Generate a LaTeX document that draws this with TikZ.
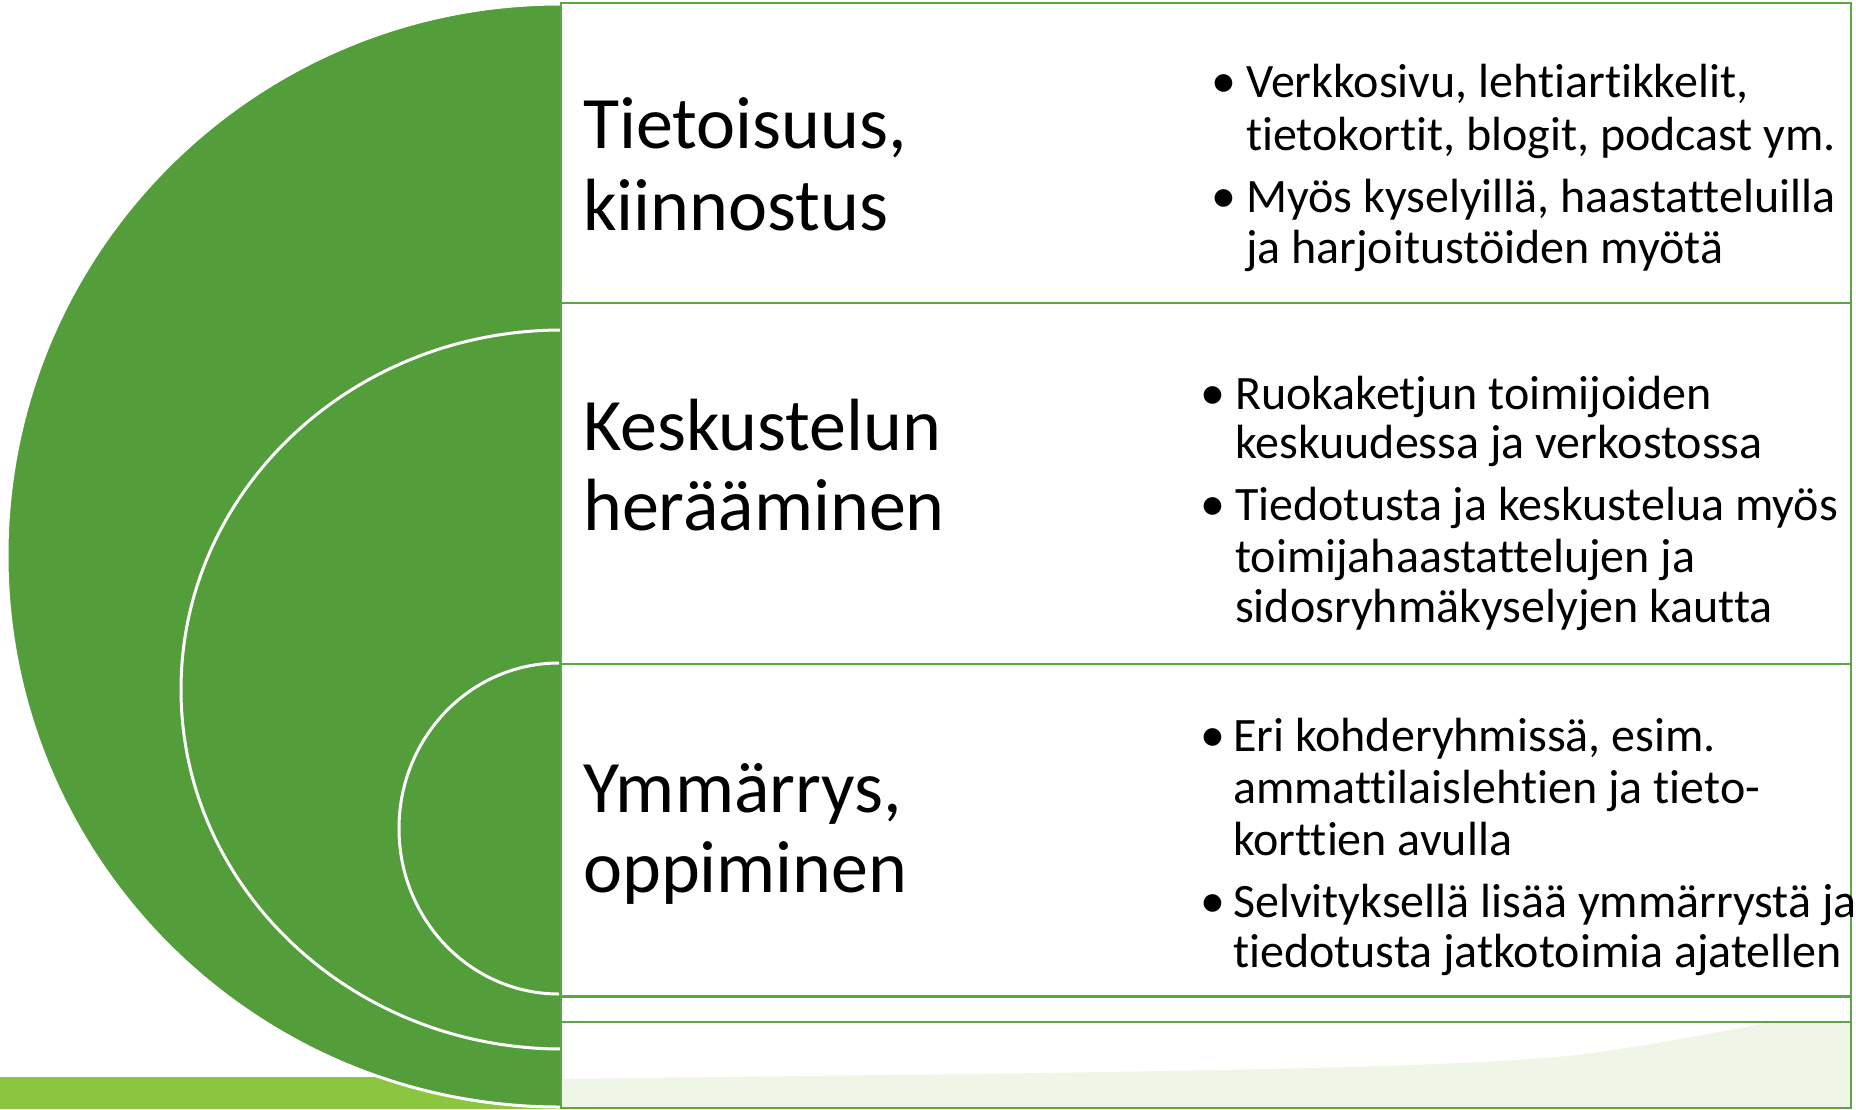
\documentclass[tikz,border=0pt]{standalone}
\usepackage{fontspec}
\setmainfont{Carlito}[Ligatures={NoCommon}]
\definecolor{dkgreen}{RGB}{83,158,59}
\definecolor{ltgreen}{RGB}{140,197,63}
\definecolor{bordergreen}{RGB}{90,166,66}
\definecolor{palegreen}{RGB}{240,246,231}
\begin{document}
\begin{tikzpicture}[x=1pt,y=-1pt,
  panel/.style={draw=bordergreen, line width=2.5pt, fill=white},
  ring/.style={fill=dkgreen, draw=white, line width=3pt},
  title/.style={anchor=base west, inner sep=0pt, font=\fontsize{74}{80}\selectfont},
  item/.style={anchor=base west, inner sep=0pt, font=\fontsize{48}{52}\selectfont},
  dot/.style={anchor=base west, inner sep=0pt, font=\fontsize{50}{52}\selectfont}]
\useasboundingbox (0,0) rectangle (1856,1109);
\fill[white] (0,0) rectangle (1856,1109);
% light green bar
\fill[ltgreen] (0,1077) rectangle (560,1109);
% nested half discs
\path[ring] (560,4) arc[start angle=270, end angle=90, x radius=553, y radius=551.5];
\path[ring] (562,330) arc[start angle=270, end angle=90, x radius=381, y radius=359.5];
\path[ring] (559,663) arc[start angle=270, end angle=90, x radius=160, y radius=165.5];
% panels
\draw[panel] (561,3) rectangle (1851,303);
\draw[panel] (561,303) rectangle (1851,664);
\draw[panel] (561,664) rectangle (1851,996);
\draw[panel] (561,997) rectangle (1851,1022);
\fill[white] (561,1022) rectangle (1851,1108);
\fill[palegreen] (562,1079) .. controls (1100,1072) and (1480,1070) .. (1600,1052)
  .. controls (1680,1040) and (1730,1030) .. (1765,1023) -- (1850,1023) -- (1850,1107) -- (562,1107) -- cycle;
\draw[draw=bordergreen, line width=2.5pt] (561,1022) rectangle (1851,1108);
% titles
\node[title] (ta) at (583,148) {Tietoisuus,};
\node[title] (tb) at (583,230) {kiinnostus};
\node[title] (ka) at (583,450) {Keskustelun};
\node[title] (kb) at (583,530) {herääminen};
\node[title] (ya) at (583,812) {Ymmärrys,};
\node[title] (yb) at (583,892) {oppiminen};
% top box bullets
\node[dot] (d1) at (1211,97) {•};
\node[item] (i1a) at (1246,97) {Verkkosivu, lehtiartikkelit,};
\node[item] (i1b) at (1246,150) {tietokortit, blogit, podcast ym.};
\node[dot] (d2) at (1211,212) {•};
\node[item] (i2a) at (1246,212) {Myös kyselyillä, haastatteluilla};
\node[item] (i2b) at (1246,263) {ja harjoitustöiden myötä};
% middle box bullets
\node[dot] (d3) at (1200,409) {•};
\node[item] (i3a) at (1235,409) {Ruokaketjun toimijoiden};
\node[item] (i3b) at (1235,458) {keskuudessa ja verkostossa};
\node[dot] (d4) at (1200,520) {•};
\node[item] (i4a) at (1235,520) {Tiedotusta ja keskustelua myös};
\node[item] (i4b) at (1235,572) {toimijahaastattelujen ja};
\node[item] (i4c) at (1235,622) {sidosryhmäkyselyjen kautta};
% bottom box bullets
\node[dot] (d5) at (1200,751) {•};
\node[item] (i5a) at (1233,751) {Eri kohderyhmissä, esim.};
\node[item] (i5b) at (1233,803) {ammattilaislehtien ja tieto-};
\node[item] (i5c) at (1233,855) {korttien avulla};
\node[dot] (d6) at (1200,917) {•};
\node[item] (i6a) at (1233,917) {Selvityksellä lisää ymmärrystä ja};
\node[item] (i6b) at (1233,967) {tiedotusta jatkotoimia ajatellen};
\end{tikzpicture}
\end{document}
